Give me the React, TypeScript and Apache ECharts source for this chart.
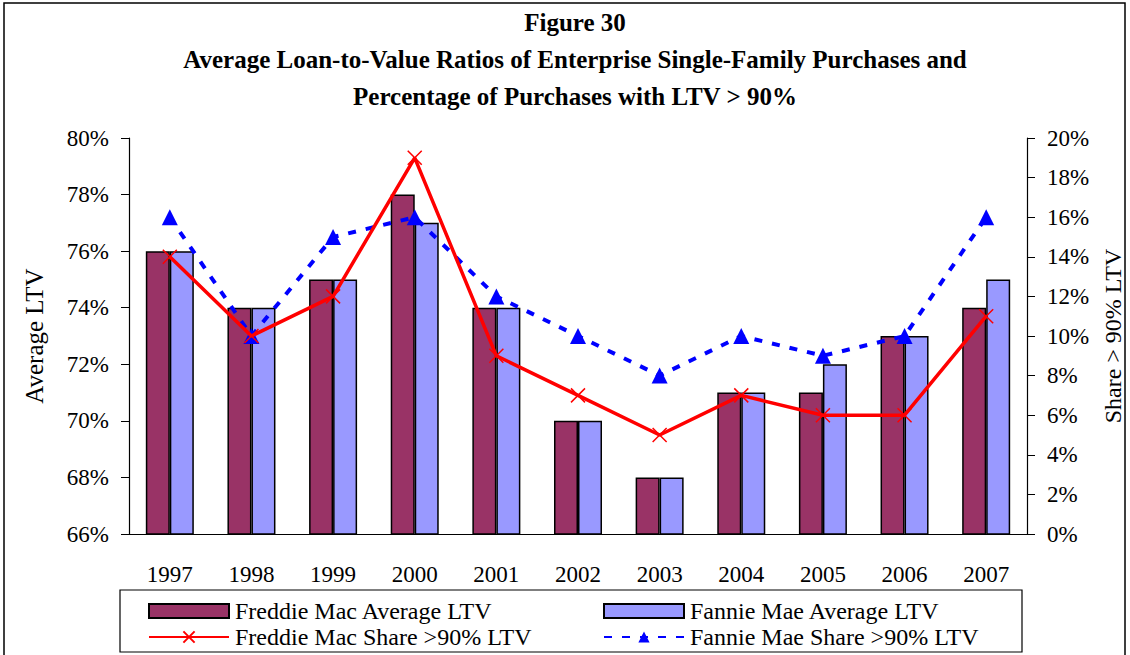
import React, { useEffect, useRef } from "react";
import * as echarts from "echarts";

const years = ["1997", "1998", "1999", "2000", "2001", "2002", "2003", "2004", "2005", "2006", "2007"];
const freddieLTV = [76, 74, 75, 78, 74, 70, 68, 71, 71, 73, 74];
const fannieLTV = [76, 74, 75, 77, 74, 70, 68, 71, 72, 73, 75];
const freddieShare = [14, 10, 12, 19, 9, 7, 5, 7, 6, 6, 11];
const fannieShare = [16, 10, 15, 16, 12, 10, 8, 10, 9, 10, 16];

const titleLines = [
  "Figure 30",
  "Average Loan-to-Value Ratios of Enterprise Single-Family Purchases and",
  "Percentage of Purchases with LTV > 90%",
];
const seriesNames = [
  "Freddie Mac Average LTV",
  "Fannie Mae Average LTV",
  "Freddie Mac Share >90% LTV",
  "Fannie Mae Share >90% LTV",
];

const FONT = "Liberation Serif";

export default function App() {
  const ref = useRef<HTMLDivElement>(null);
  useEffect(() => {
    document.body.style.margin = "0";
    const chart = echarts.init(ref.current!, null, { renderer: "svg" });
    const txt = { color: "#000", fontFamily: FONT, fontSize: 23 };
    const legendBase = {
      orient: "horizontal",
      itemWidth: 80,
      itemHeight: 14,
      itemGap: 0,
      textStyle: { ...txt, fontSize: 24, padding: [0, 0, 0, 1] },
      padding: 0,
    };
    chart.setOption({
      animation: false,
      textStyle: { fontFamily: FONT },
      grid: { left: 129, right: 103, top: 138, bottom: 121, containLabel: false, outerBoundsMode: "none" },
      xAxis: {
        type: "category",
        data: years,
        axisLine: { lineStyle: { color: "#000", width: 1.2 } },
        axisTick: { length: 8, lineStyle: { color: "#000" } },
        axisLabel: { ...txt, margin: 29 },
      },
      yAxis: [
        {
          type: "value",
          min: 66,
          max: 80,
          interval: 2,
          name: "Average LTV",
          nameLocation: "middle",
          nameRotate: 90,
          nameGap: 82,
          nameTextStyle: { ...txt, fontSize: 25 },
          axisLine: { show: true, lineStyle: { color: "#000", width: 1.2 } },
          axisTick: { show: true, length: 8, lineStyle: { color: "#000" } },
          axisLabel: { ...txt, margin: 20, formatter: "{value}%" },
          splitLine: { show: false },
        },
        {
          type: "value",
          min: 0,
          max: 20,
          interval: 2,
          position: "right",
          name: "Share > 90% LTV",
          nameLocation: "middle",
          nameRotate: 90,
          nameGap: 74,
          nameTextStyle: { ...txt, fontSize: 24 },
          axisLine: { show: true, lineStyle: { color: "#000", width: 1.2 } },
          axisTick: { show: true, length: 8, lineStyle: { color: "#000" } },
          axisLabel: { ...txt, margin: 20, formatter: "{value}%" },
          splitLine: { show: false },
        },
      ],
      legend: [
        { ...legendBase, left: 148, top: 599, data: [{ name: seriesNames[0], icon: "rect" }] },
        { ...legendBase, left: 603, top: 599, data: [{ name: seriesNames[1], icon: "rect" }] },
        { ...legendBase, left: 148, top: 625, data: [seriesNames[2]] },
        { ...legendBase, left: 603, top: 625, data: [seriesNames[3]] },
      ],
      series: [
        {
          name: seriesNames[0],
          type: "bar",
          data: freddieLTV,
          barWidth: 24,
          barGap: "0%",
          itemStyle: { color: "#993366", borderColor: "#000", borderWidth: 1.5 },
        },
        {
          name: seriesNames[1],
          type: "bar",
          data: fannieLTV,
          barWidth: 24,
          barGap: "0%",
          itemStyle: { color: "#9999FF", borderColor: "#000", borderWidth: 1.5 },
        },
        {
          name: seriesNames[2],
          type: "line",
          yAxisIndex: 1,
          data: freddieShare,
          symbol: "path://M0,0L10,10M10,0L0,10",
          symbolSize: 14,
          lineStyle: { color: "#FF0000", width: 3.5 },
          itemStyle: { color: "#FF0000", borderColor: "#FF0000", borderWidth: 1.5 },
          z: 5,
        },
        {
          name: seriesNames[3],
          type: "line",
          yAxisIndex: 1,
          data: fannieShare,
          symbol: "triangle",
          symbolSize: 16,
          lineStyle: { color: "#0000FF", width: 4, type: [8, 10] },
          itemStyle: { color: "#0000FF" },
          z: 4,
        },
      ],
      graphic: [
        {
          type: "rect",
          shape: { x: 4, y: 3, width: 1121, height: 660 },
          style: { fill: "none", stroke: "#000", lineWidth: 1.5 },
          silent: true,
        },
        {
          type: "rect",
          shape: { x: 120, y: 590, width: 902, height: 62 },
          style: { fill: "none", stroke: "#000", lineWidth: 1.2 },
          silent: true,
        },
        ...titleLines.map((t, i) => ({
          type: "text",
          x: 575,
          y: 22 + i * 37,
          style: {
            text: t,
            fontFamily: FONT,
            fontSize: 25,
            fontWeight: "bold",
            fill: "#000",
            textAlign: "center",
            textVerticalAlign: "middle",
          },
        })),
      ],
    });
    return () => chart.dispose();
  }, []);
  return <div ref={ref} style={{ width: 1130, height: 655 }} />;
}
